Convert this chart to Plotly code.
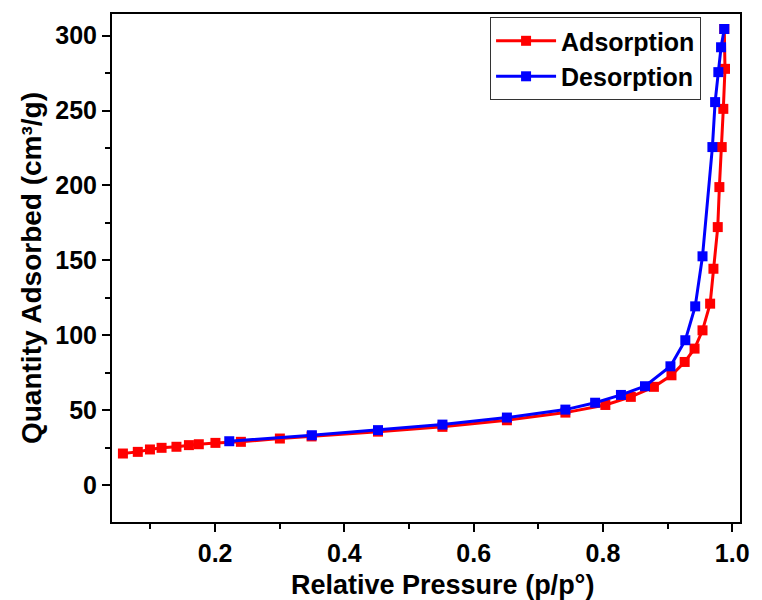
import plotly.graph_objects as go

ads_p = [0.0574, 0.0804, 0.0992, 0.1172, 0.1402, 0.1595, 0.1748, 0.2005, 0.2399, 0.3002,
         0.3492, 0.452, 0.5517, 0.6514, 0.7419, 0.8037, 0.8431, 0.8788, 0.906, 0.9264,
         0.9417, 0.954, 0.9658, 0.9709, 0.9776, 0.9801, 0.9837, 0.9862, 0.9888, 0.9877]
ads_q = [21.1, 22.2, 23.8, 24.9, 25.6, 26.7, 27.3, 28.2, 28.9, 31.1,
         32.5, 35.7, 38.9, 43.3, 48.4, 53.5, 58.9, 65.6, 73.3, 82.2,
         91.1, 103.3, 121.1, 144.4, 172.2, 198.9, 225.6, 251.1, 277.8, 304.4]

des_p = [0.9877, 0.9827, 0.9785, 0.9735, 0.9693, 0.954, 0.9427, 0.9274, 0.9044, 0.865,
         0.8278, 0.7879, 0.7419, 0.6514, 0.5517, 0.452, 0.3497, 0.2219]
des_q = [304.4, 292.2, 275.6, 255.6, 225.6, 152.7, 119.3, 96.7, 79.3, 66.0,
         60.2, 55.0, 50.4, 45.1, 40.4, 36.7, 33.3, 29.3]

x_ticks = [0.2, 0.4, 0.6, 0.8, 1.0]
x_minor = [0.1, 0.3, 0.5, 0.7, 0.9]
y_ticks = [0, 50, 100, 150, 200, 250, 300]
y_minor = [25, 75, 125, 175, 225, 275]

FONT = "Liberation Sans, Arial, sans-serif"

fig = go.Figure()
fig.add_trace(go.Scatter(x=ads_p, y=ads_q, mode="lines+markers", name="Adsorption",
                         line=dict(color="#ff0000", width=3),
                         marker=dict(symbol="square", size=10, color="#ff0000")))
fig.add_trace(go.Scatter(x=des_p, y=des_q, mode="lines+markers", name="Desorption",
                         line=dict(color="#0000ff", width=3),
                         marker=dict(symbol="square", size=10, color="#0000ff")))

tick_font = dict(family=FONT, size=25, color="black", weight="bold")
fig.update_layout(
    width=762, height=600,
    margin=dict(l=112, r=17, t=13, b=78),
    plot_bgcolor="white", paper_bgcolor="white",
    font=dict(family=FONT, color="black"),
    showlegend=True,
    legend=dict(x=0.938, y=0.994, xanchor="right", yanchor="top",
                bordercolor="#333333", borderwidth=1, bgcolor="white",
                font=dict(family=FONT, size=25, color="black", weight="bold"),
                itemwidth=60, tracegroupgap=0),
    xaxis=dict(range=[0.0405, 1.012], tickvals=x_ticks, ticktext=[f"{v:.1f}" for v in x_ticks],
               ticks="outside", ticklen=8, tickwidth=2, tickcolor="black",
               minor=dict(tickvals=x_minor, ticks="outside", ticklen=5,
                          tickwidth=1.5, tickcolor="black"),
               showline=True, linewidth=2, linecolor="black", mirror=True,
               showgrid=False, zeroline=False,
               tickfont=tick_font),
    yaxis=dict(range=[-24.6, 314.4], tickvals=y_ticks,
               ticks="outside", ticklen=8, tickwidth=2, tickcolor="black",
               minor=dict(tickvals=y_minor, ticks="outside", ticklen=5,
                          tickwidth=1.5, tickcolor="black"),
               showline=True, linewidth=2, linecolor="black", mirror=True,
               showgrid=False, zeroline=False,
               tickfont=tick_font,
               title=dict(text="Quantity Adsorbed (cm³/g)", standoff=5,
                          font=dict(family=FONT, size=28, color="black", weight="bold"))),
    annotations=[dict(text="Relative Pressure (p/p°)", xref="paper", yref="paper",
                      x=0.526, y=0, yshift=-63, xanchor="center", yanchor="middle",
                      showarrow=False,
                      font=dict(family=FONT, size=27, color="black", weight="bold"))],
)

fig.write_html("out.html")
